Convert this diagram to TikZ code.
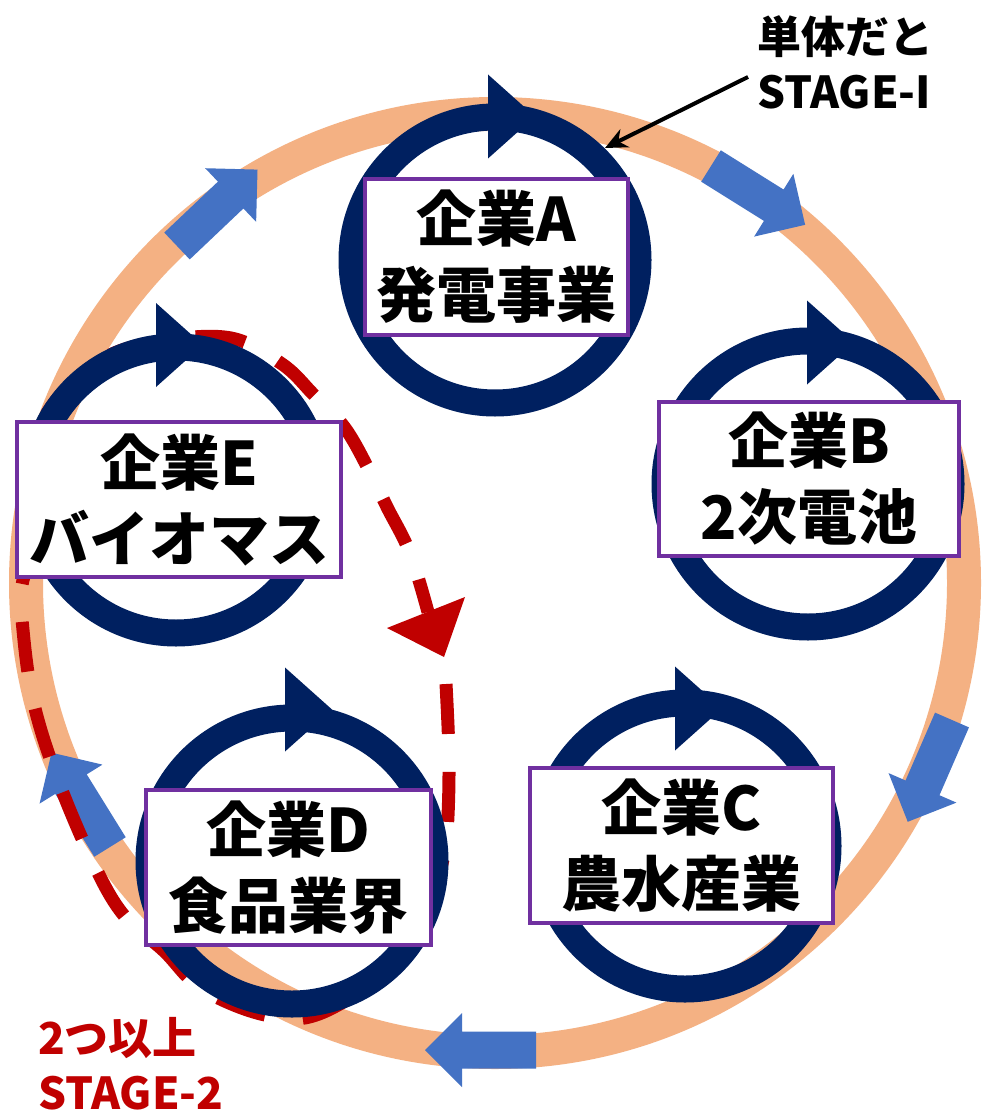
\documentclass[tikz,border=0pt]{standalone}
\usepackage{fontspec}
\setmainfont{Noto Sans CJK JP}
\usetikzlibrary{arrows.meta}
\definecolor{ringorange}{HTML}{F4B183}
\definecolor{flowblue}{HTML}{4472C4}
\definecolor{navyblue}{HTML}{002060}
\definecolor{boxpurple}{HTML}{7030A0}
\definecolor{stagered}{HTML}{C00000}
\newcommand\flowarrow[3]{%
  \fill[flowblue,shift={(#1,#2)},rotate=#3]
    (0,-18.5) -- (74,-18.5) -- (74,-37) -- (111,0) -- (74,37) -- (74,18.5) -- (0,18.5) -- cycle;}
\newcommand\loopring[5]{% cx, cy, base x, base mid y, name
  \draw[navyring] (#1,#2) circle[radius=143];
  \fill[navyblue] (#3,#4-42) -- (#3+47,#4) -- (#3,#4+42) -- cycle;
  \coordinate (#5) at (#1,#2);}
\begin{document}
\begin{tikzpicture}[x=1pt,y=-1pt,
  bigring/.style={draw=ringorange, line width=34pt},
  navyring/.style={draw=navyblue, line width=27pt},
  stagepath/.style={draw=stagered, line width=13pt, dash pattern=on 50pt off 38pt},
  company/.style={draw=boxpurple, line width=4pt, fill=white, inner sep=0pt,
    align=center, font=\bfseries\fontsize{60}{76}\selectfont},
  note/.style={inner sep=0pt, align=left, anchor=west,
    font=\bfseries\fontsize{44}{55}\selectfont},
  pointer/.style={draw=black, line width=4pt, -{Stealth[length=22pt,width=20pt]}}]
\useasboundingbox (0,0) rectangle (984,1118);
\fill[white] (0,0) rectangle (984,1118);

% big orange cycle
\draw[bigring] (495,583) circle[radius=469];

% blue flow arrows (clockwise)
\flowarrow{177}{246}{43.5}
\flowarrow{711}{166}{-32}
\flowarrow{952}{720}{-113.5}
\flowarrow{536}{1050}{180}
\flowarrow{110}{847}{121.8}

% red dashed STAGE-2 loop
\draw[stagepath] plot[smooth, tension=0.6] coordinates {
  (446,684) (449,760) (447,832) (440,872) (425,924) (392,968) (319,1014) (265,1015)
  (202,989) (164,951) (122,913) (90,856) (55,772) (33,700) (23,630) (22,585)
  (35,541) (26,490) (46,415) (101,360) (163,341) (231,338) (282,364) (313,394)
  (345,428) (370,472) (387,507) (410,553) (428,612)};
\fill[stagered] (387,628) -- (465,597) -- (444,657) -- cycle;

% company cycles
\loopring{495}{260}{488}{116.5}{cA}
\loopring{808}{484}{807}{342.5}{cB}
\loopring{685}{846}{675}{708.5}{cC}
\loopring{292}{861}{285}{709.5}{cD}
\loopring{176}{490}{156}{345}{cE}

\node[company, minimum width=263pt, minimum height=156pt] (A) at (496.5,257) {企業A\\発電事業};
\node[company, minimum width=300pt, minimum height=154pt] (B) at (809,479) {企業B\\2次電池};
\node[company, minimum width=303pt, minimum height=155pt] (C) at (681.5,845.5) {企業C\\農水産業};
\node[company, minimum width=285pt, minimum height=155pt] (D) at (288.5,867.5) {企業D\\食品業界};
\node[company, minimum width=324pt, minimum height=155pt] (E) at (179,499.5) {企業E\\バイオマス};

% labels
\node[note] (single) at (757,62) {単体だと\\STAGE-I};
\coordinate (pfrom) at (748,77);
\coordinate (ptouch) at (605,148);
\draw[pointer] (pfrom) -- (ptouch);
\node[note, text=stagered] (multi) at (38,1064) {2つ以上\\STAGE-2};
\end{tikzpicture}
\end{document}
